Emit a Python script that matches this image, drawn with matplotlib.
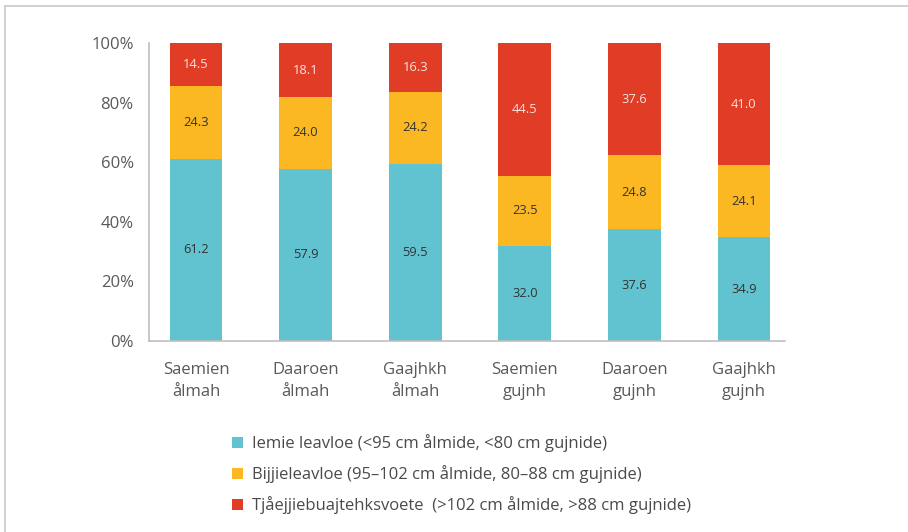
import matplotlib.pyplot as plt
from matplotlib.patches import Patch
from matplotlib.lines import Line2D

plt.rcParams['font.family'] = ['Open Sans', 'DejaVu Sans']

# data
groups = ['Saemien\nålmah', 'Daaroen\nålmah', 'Gaajhkh\nålmah',
          'Saemien\ngujnh', 'Daaroen\ngujnh', 'Gaajhkh\ngujnh']
iemie = [61.2, 57.9, 59.5, 32.0, 37.6, 34.9]
bijjie = [24.3, 24.0, 24.2, 23.5, 24.8, 24.1]
tjaeejjie = [14.5, 18.1, 16.3, 44.5, 37.6, 41.0]
legend_labels = ['Iemie leavloe (<95 cm ålmide, <80 cm gujnide)',
                 'Bijjieleavloe (95–102 cm ålmide, 80–88 cm gujnide)',
                 'Tjåejjiebuajtehksvoete  (>102 cm ålmide, >88 cm gujnide)']
colors = ['#62C3D0', '#FBB822', '#E03C26']
text_colors = ['#333333', '#333333', '#FBE3DC']

fig = plt.figure(figsize=(9.08, 5.32), dpi=100)
ax = fig.add_axes([0.164, 0.359, 0.700, 0.560])

x = range(len(groups))
bottom = [0] * len(groups)
for vals, col, tc in zip([iemie, bijjie, tjaeejjie], colors, text_colors):
    bars = ax.bar(x, vals, width=0.48, bottom=bottom, color=col)
    for b, v, b0 in zip(bars, vals, bottom):
        ax.text(b.get_x() + b.get_width() / 2, b0 + v / 2, f'{v:.1f}',
                ha='center', va='center', fontsize=9.3, color=tc)
    bottom = [a + b for a, b in zip(bottom, vals)]

ax.set_xlim(-0.43, 5.37)
ax.set_ylim(0, 100)
ax.set_yticks([0, 20, 40, 60, 80, 100])
ax.set_yticklabels([f'{t}%' for t in [0, 20, 40, 60, 80, 100]])
ax.set_xticks(list(x))
ax.set_xticklabels(groups, linespacing=1.5)
ax.tick_params(axis='both', length=0, labelsize=12, labelcolor='#595959')
ax.tick_params(axis='y', pad=11)
ax.tick_params(axis='x', pad=15)
for s in ['top', 'right']:
    ax.spines[s].set_visible(False)
for s in ['left', 'bottom']:
    ax.spines[s].set_color('#BFBFBF')
    ax.spines[s].set_linewidth(1.2)

handles = [Patch(facecolor=c, edgecolor='none') for c in colors]
fig.legend(handles, legend_labels, loc='upper left', bbox_to_anchor=(0.2555, 0.184),
           bbox_transform=fig.transFigure, frameon=False, fontsize=12,
           borderpad=0, borderaxespad=0,
           handlelength=0.66, handleheight=0.66, handletextpad=0.55,
           labelspacing=0.78, labelcolor='#4A4A4A')

# thin frame lines along left and top edge
fig.add_artist(Line2D([0.0055, 0.0055], [0, 0.989], color='#C8C8C8', lw=1.2))
fig.add_artist(Line2D([0.0055, 1], [0.989, 0.989], color='#C8C8C8', lw=1.2))

fig.savefig('out.png', dpi=100)
